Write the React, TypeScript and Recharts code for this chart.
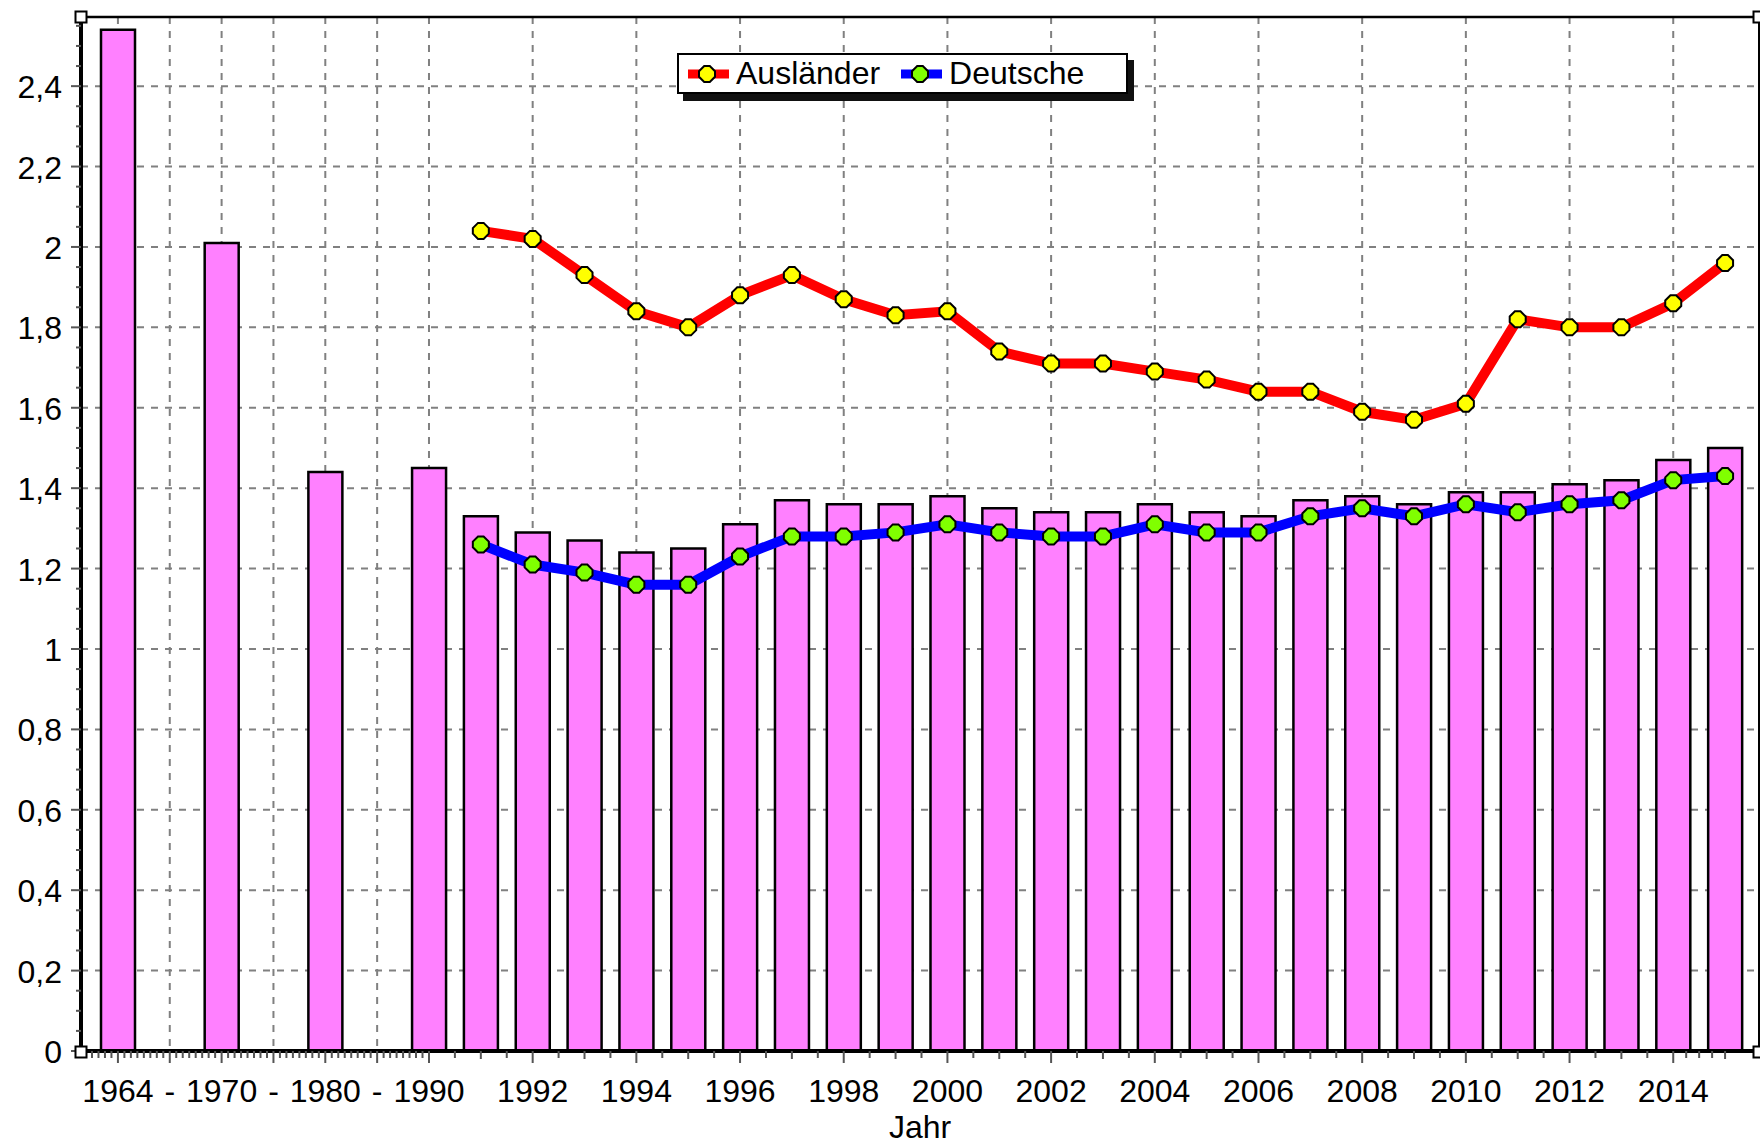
import React from "react";
import { ComposedChart, Bar, Line, XAxis, YAxis, CartesianGrid, Legend } from "recharts";

// ---------- data ----------
const categories = [
  "1964", "1964-1970", "1970", "1970-1980", "1980", "1980-1990", "1990",
  "1991", "1992", "1993", "1994", "1995", "1996", "1997", "1998", "1999",
  "2000", "2001", "2002", "2003", "2004", "2005", "2006", "2007", "2008",
  "2009", "2010", "2011", "2012", "2013", "2014", "2015",
];

const tickLabels = [
  "1964", "-", "1970", "-", "1980", "-", "1990",
  "", "1992", "", "1994", "", "1996", "", "1998", "",
  "2000", "", "2002", "", "2004", "", "2006", "", "2008",
  "", "2010", "", "2012", "", "2014", "",
];

// total fertility rate (bars)
const totalRate = [
  2.54, null, 2.01, null, 1.44, null, 1.45,
  1.33, 1.29, 1.27, 1.24, 1.25, 1.31, 1.37, 1.36, 1.36,
  1.38, 1.35, 1.34, 1.34, 1.36, 1.34, 1.33, 1.37, 1.38,
  1.36, 1.39, 1.39, 1.41, 1.42, 1.47, 1.50,
];

const auslaender = [
  null, null, null, null, null, null, null,
  2.04, 2.02, 1.93, 1.84, 1.80, 1.88, 1.93, 1.87, 1.83,
  1.84, 1.74, 1.71, 1.71, 1.69, 1.67, 1.64, 1.64, 1.59,
  1.57, 1.61, 1.82, 1.80, 1.80, 1.86, 1.96,
];

const deutsche = [
  null, null, null, null, null, null, null,
  1.26, 1.21, 1.19, 1.16, 1.16, 1.23, 1.28, 1.28, 1.29,
  1.31, 1.29, 1.28, 1.28, 1.31, 1.29, 1.29, 1.33, 1.35,
  1.33, 1.36, 1.34, 1.36, 1.37, 1.42, 1.43,
];

const yMajorTicks = [0, 0.2, 0.4, 0.6, 0.8, 1, 1.2, 1.4, 1.6, 1.8, 2, 2.2, 2.4];
const Y_MAX = 2.572;

// ---------- layout ----------
const W = 1760;
const H = 1145;
const PLOT_LEFT = 81;
const PLOT_TOP = 17;
const PLOT_RIGHT = 1759;
const PLOT_BOTTOM = 1051;
const PAD_L = 11;
const PAD_R = 8;
const BAND = (PLOT_RIGHT - PLOT_LEFT - PAD_L - PAD_R) / categories.length;
const FONT = "'Liberation Sans', Arial, sans-serif";

const data = categories.map((c, i) => ({
  cat: c,
  total: totalRate[i],
  aus: auslaender[i],
  deu: deutsche[i],
}));

const yTicks: number[] = [];
for (let i = 0; i * 0.05 <= 2.56; i++) yTicks.push(Math.round(i * 5) / 100);

// vertical grid lines only at the labelled category centres
const gridX = categories
  .map((_, i) => i)
  .filter((i) => tickLabels[i] !== "")
  .map((i) => PLOT_LEFT + PAD_L + BAND * (i + 0.5));

const markerFill: Record<string, string> = { aus: "#FFFF00", deu: "#80FF00" };

const octPath = (cx: number, cy: number, r = 8, f = 2.8) =>
  `M${cx - f},${cy - r} L${cx + f},${cy - r} L${cx + r},${cy - f} L${cx + r},${cy + f} ` +
  `L${cx + f},${cy + r} L${cx - f},${cy + r} L${cx - r},${cy + f} L${cx - r},${cy - f} Z`;

const makeDot = (fill: string) => (props: any) => {
  const { cx, cy, index } = props;
  if (cx == null || cy == null || isNaN(cx) || isNaN(cy)) return <g key={`e-${index}`} />;
  return <path key={`d-${index}`} d={octPath(cx, cy)} fill={fill} stroke="#000" strokeWidth={2} />;
};

const XTick = (props: any) => {
  const { x, y, index } = props;
  const label = tickLabels[index] ?? "";
  const major = label !== "";
  const offs: number[] = [];
  if (index <= 5) for (let k = 1; k <= 7; k++) offs.push(k / 8);
  if (index === 0) for (let k = 1; k <= 5; k++) offs.push(-k / 8);
  if (index >= 6 && index < 30) offs.push(0.5);
  if (index === 30) offs.push(0.25, 0.5, 0.75);
  return (
    <g>
      <line x1={x} x2={x} y1={y} y2={y + (major ? 12 : 8)} stroke="#555" strokeWidth={2} />
      {offs.map((o, k) => (
        <line key={k} x1={x + o * BAND} x2={x + o * BAND} y1={y} y2={y + 7} stroke="#555" strokeWidth={2} />
      ))}
      {major && (
        <text x={x} y={y + 51} textAnchor="middle" fontSize={32} fontFamily={FONT} fill="#000">
          {label}
        </text>
      )}
    </g>
  );
};

const fmtY = (v: number) => String(Math.round(v * 10) / 10).replace(".", ",");

const YTick = (props: any) => {
  const { x, y, payload } = props;
  const v = payload.value as number;
  const major = Math.abs(v / 0.2 - Math.round(v / 0.2)) < 1e-6;
  return (
    <g>
      <line x1={x - (major ? 10 : 5)} x2={x} y1={y} y2={y} stroke="#555" strokeWidth={2} />
      {major && (
        <text x={x - 19} y={y + 12} textAnchor="end" fontSize={32} fontFamily={FONT} fill="#000">
          {fmtY(v)}
        </text>
      )}
    </g>
  );
};

const LegendBox = (props: any) => {
  const payload = ((props.payload || []) as any[]).filter((e) => markerFill[e.dataKey]);
  return (
    <div
      style={{
        display: "flex",
        alignItems: "center",
        boxSizing: "border-box",
        width: 451,
        height: 41,
        border: "2px solid #000",
        background: "#fff",
        boxShadow: "6px 7px 0 #111",
        paddingLeft: 9,
        fontFamily: FONT,
        fontSize: 32,
        color: "#000",
        whiteSpace: "nowrap",
      }}
    >
      {payload.map((e, i) => (
        <div key={i} style={{ display: "flex", alignItems: "center", marginRight: 21 }}>
          <svg width={41} height={22} style={{ display: "block" }}>
            <rect x={0} y={6.5} width={41} height={9} fill={e.color} />
            <path d={octPath(19, 11)} fill={markerFill[e.dataKey] || "#fff"} stroke="#000" strokeWidth={2} />
          </svg>
          <span style={{ marginLeft: 7, lineHeight: "37px" }}>{e.value}</span>
        </div>
      ))}
    </div>
  );
};

export default function App() {
  return (
    <div style={{ position: "absolute", left: 0, top: 0, width: W, height: H, background: "#fff" }}>
      <ComposedChart
        width={W}
        height={H}
        data={data}
        margin={{ top: PLOT_TOP, right: W - PLOT_RIGHT, left: 0, bottom: 0 }}
        barCategoryGap={0}
      >
        <CartesianGrid
          stroke="#808080"
          strokeWidth={2}
          strokeDasharray="7 7"
          horizontalValues={yMajorTicks.filter((v) => v > 0)}
          verticalPoints={gridX}
        />
        <XAxis
          dataKey="cat"
          type="category"
          interval={0}
          height={H - PLOT_BOTTOM}
          padding={{ left: PAD_L, right: PAD_R }}
          axisLine={{ stroke: "#000", strokeWidth: 4 }}
          tickLine={false}
          tickSize={0}
          tickMargin={0}
          tick={<XTick />}
          label={{ value: "Jahr", position: "insideBottom", offset: 7, fill: "#000", fontSize: 32, fontFamily: FONT }}
        />
        <YAxis
          type="number"
          domain={[0, Y_MAX]}
          ticks={yTicks}
          interval={0}
          width={PLOT_LEFT}
          axisLine={{ stroke: "#000", strokeWidth: 4 }}
          tickLine={false}
          tickSize={0}
          tickMargin={0}
          tick={<YTick />}
        />
        <Legend
          layout="horizontal"
          verticalAlign="middle"
          align="center"
          wrapperStyle={{ left: 677, top: 53, width: "auto" }}
          content={<LegendBox />}
        />
        <Bar
          dataKey="total"
          name="Gesamt"
          fill="#FF80FF"
          stroke="#000"
          strokeWidth={2.5}
          barSize={34}
          legendType="none"
          isAnimationActive={false}
        />
        <Line
          dataKey="aus"
          name="Ausländer"
          type="linear"
          stroke="#FF0000"
          strokeWidth={10}
          dot={makeDot("#FFFF00")}
          activeDot={false}
          isAnimationActive={false}
        />
        <Line
          dataKey="deu"
          name="Deutsche"
          type="linear"
          stroke="#0000FF"
          strokeWidth={10}
          dot={makeDot("#80FF00")}
          activeDot={false}
          isAnimationActive={false}
        />
      </ComposedChart>
      <svg
        width={W}
        height={H}
        style={{ position: "absolute", left: 0, top: 0, pointerEvents: "none" }}
      >
        <line x1={PLOT_LEFT} x2={PLOT_RIGHT} y1={PLOT_TOP} y2={PLOT_TOP} stroke="#000" strokeWidth={2.5} />
        <line x1={PLOT_RIGHT} x2={PLOT_RIGHT} y1={PLOT_TOP} y2={PLOT_BOTTOM} stroke="#000" strokeWidth={2} />
        {[
          [PLOT_LEFT, PLOT_TOP],
          [PLOT_RIGHT, PLOT_TOP],
          [PLOT_LEFT, PLOT_BOTTOM + 1],
          [PLOT_RIGHT, PLOT_BOTTOM + 1],
        ].map(([cx, cy], i) => (
          <rect key={i} x={cx - 5.5} y={cy - 5.5} width={11} height={11} fill="#fff" stroke="#000" strokeWidth={2} />
        ))}
      </svg>
    </div>
  );
}
